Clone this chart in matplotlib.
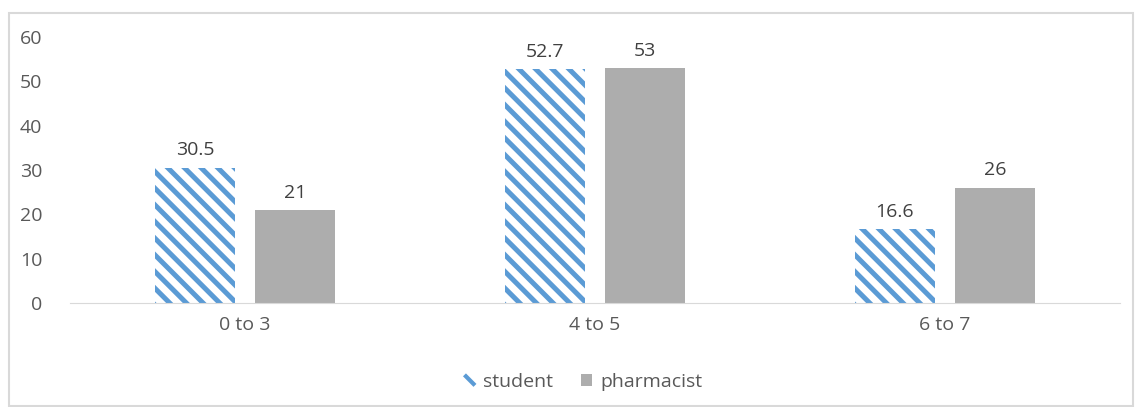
import matplotlib
matplotlib.use("Agg")
import matplotlib.pyplot as plt
import numpy as np
from matplotlib.patches import Rectangle
from matplotlib.lines import Line2D
from matplotlib.legend_handler import HandlerBase

categories = ["0 to 3", "4 to 5", "6 to 7"]
student = [30.5, 52.7, 16.6]
pharmacist = [21, 53, 26]
student_labels = ["30.5", "52.7", "16.6"]
pharmacist_labels = ["21", "53", "26"]

BLUE = '#5B9BD5'
GREY = '#ADADAD'

plt.rcParams['font.family'] = ['Open Sans', 'DejaVu Sans']
plt.rcParams['hatch.linewidth'] = 3.6
plt.rcParams['hatch.color'] = BLUE


class StripeHandler(HandlerBase):
    def create_artists(self, legend, orig_handle, xdescent, ydescent, width, height,
                       fontsize, trans):
        x0 = -xdescent + width * 0.05
        x1 = x0 + width * 0.9
        y0 = -ydescent + height * 0.95
        y1 = -ydescent + height * 0.05
        ln = Line2D([x0, x1], [y0, y1], color=BLUE, linewidth=3.0,
                    solid_capstyle='butt', transform=trans)
        return [ln]


fig = plt.figure(figsize=(11.35, 4.07), dpi=100)
fig.patches.append(Rectangle((9/1135, 1/407), 1124/1135, 393/407, transform=fig.transFigure,
                             fill=False, edgecolor='#D9D9D9', linewidth=1.5))
ax = fig.add_axes([70/1135, 104/407, 1050/1135, 266/407])

x = np.arange(len(categories))
w = 0.2286
off = 0.143
b1 = ax.bar(x - off, student, w, color='white', edgecolor=BLUE, linewidth=0,
            hatch='\\\\', label='student')
b2 = ax.bar(x + off, pharmacist, w, color=GREY, linewidth=0, label='pharmacist')

for bars, labs in ((b1, student_labels), (b2, pharmacist_labels)):
    for rect, lab in zip(bars, labs):
        ax.annotate(lab, (rect.get_x() + rect.get_width()/2, rect.get_height()),
                    xytext=(0, 6), textcoords='offset points', ha='center', va='bottom',
                    fontsize=14, color='#404040')

ax.set_xlim(-0.5, 2.5)
ax.set_ylim(0, 60)
ax.set_yticks(range(0, 61, 10))
ax.set_xticks(x)
ax.set_xticklabels(categories)
for s in ['top', 'right', 'left']:
    ax.spines[s].set_visible(False)
ax.spines['bottom'].set_color('#D9D9D9')
ax.tick_params(axis='both', length=0, labelsize=14, colors='#595959')
ax.tick_params(axis='y', pad=20)
ax.tick_params(axis='x', pad=9)

fig.legend(handles=[b1, b2], labels=['student', 'pharmacist'], loc='center',
           bbox_to_anchor=(583/1135, 1 - 382/407), ncol=2, frameon=False,
           fontsize=14, labelcolor='#595959', handlelength=0.6, handleheight=0.55,
           handletextpad=0.4, columnspacing=1.4,
           handler_map={b1: StripeHandler()})

fig.savefig('out.png', dpi=100)
